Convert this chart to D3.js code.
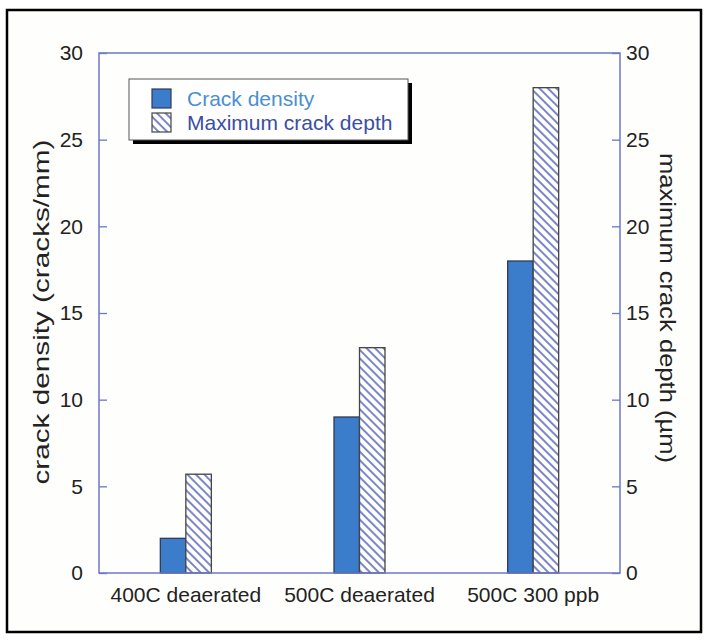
<!DOCTYPE html>
<html>
<head>
<meta charset="utf-8">
<script src="https://cdn.jsdelivr.net/npm/d3@7"></script>
<style>
  body { margin: 0; background: #fff; }
  text { font-family: "Liberation Sans", Arial, sans-serif; }
</style>
</head>
<body>
<svg width="704" height="640"></svg>
<script>
const categories = ["400C deaerated", "500C deaerated", "500C 300 ppb"];
const crackDensity = [2, 9, 18];
const maxCrackDepth = [5.7, 13, 28];
const yTicks = [0, 5, 10, 15, 20, 25, 30];

const svg = d3.select("svg");
const plotLeft = 99, plotRight = 620, plotTop = 53, plotBottom = 573;

// page frame
svg.append("rect")
  .attr("x", 7).attr("y", 10).attr("width", 694).attr("height", 622)
  .attr("fill", "#fefefc").attr("stroke", "#000").attr("stroke-width", 2.5);

const defs = svg.append("defs");
const hatch = defs.append("pattern")
  .attr("id", "hatch")
  .attr("patternUnits", "userSpaceOnUse")
  .attr("width", 6).attr("height", 6)
  .attr("patternTransform", "rotate(-45)");
hatch.append("rect").attr("width", 6).attr("height", 6).attr("fill", "#fff");
hatch.append("line")
  .attr("x1", 1).attr("y1", 0).attr("x2", 1).attr("y2", 6)
  .attr("stroke", "#5b68b6").attr("stroke-width", 1.6);

const x = d3.scaleBand().domain(categories).range([plotLeft, plotRight]);
const yL = d3.scaleLinear().domain([0, 30]).range([plotBottom, plotTop]);
const yR = d3.scaleLinear().domain([0, 30]).range([plotBottom, plotTop]);
const barW = 25.5;

// bars
svg.append("g").selectAll("rect")
  .data(categories)
  .join("rect")
  .attr("x", d => x(d) + x.bandwidth() / 2 - barW)
  .attr("y", (d, i) => yL(crackDensity[i]))
  .attr("width", barW)
  .attr("height", (d, i) => yL(0) - yL(crackDensity[i]))
  .attr("fill", "#3b7ccb")
  .attr("stroke", "#333a55").attr("stroke-width", 1.3);

svg.append("g").selectAll("rect")
  .data(categories)
  .join("rect")
  .attr("x", d => x(d) + x.bandwidth() / 2)
  .attr("y", (d, i) => yR(maxCrackDepth[i]))
  .attr("width", barW)
  .attr("height", (d, i) => yR(0) - yR(maxCrackDepth[i]))
  .attr("fill", "url(#hatch)")
  .attr("stroke", "#444").attr("stroke-width", 1.3);

// axes
const axisColor = "#6b78c6";
const gL = svg.append("g").attr("transform", `translate(${plotLeft},0)`)
  .call(d3.axisLeft(yL).tickValues(yTicks).tickSize(-8).tickPadding(16).tickFormat(d3.format("d")));
const gR = svg.append("g").attr("transform", `translate(${plotRight},0)`)
  .call(d3.axisRight(yR).tickValues(yTicks).tickSize(-8).tickPadding(6).tickFormat(d3.format("d")));
[gL, gR].forEach(g => {
  g.select(".domain").remove();
  g.selectAll("line").attr("stroke", axisColor).attr("stroke-width", 1.3);
  g.selectAll("text").attr("font-size", 21).attr("fill", "#222")
    .attr("font-family", "'Liberation Sans', Arial, sans-serif");
});

svg.append("rect")
  .attr("x", plotLeft).attr("y", plotTop)
  .attr("width", plotRight - plotLeft).attr("height", plotBottom - plotTop)
  .attr("fill", "none").attr("stroke", axisColor).attr("stroke-width", 1.5);

// category labels
svg.append("g").selectAll("text")
  .data(categories)
  .join("text")
  .attr("x", d => x(d) + x.bandwidth() / 2)
  .attr("y", 602)
  .attr("text-anchor", "middle")
  .attr("font-size", 21).attr("fill", "#222")
  .text(d => d);

// axis titles (stretched along their length as in the source figure)
svg.append("text")
  .attr("transform", `translate(49,312) rotate(-90)`)
  .attr("text-anchor", "middle")
  .attr("font-size", 22).attr("fill", "#222")
  .attr("textLength", 345).attr("lengthAdjust", "spacingAndGlyphs")
  .text("crack density (cracks/mm)");

svg.append("text")
  .attr("transform", `translate(660,308) rotate(90)`)
  .attr("text-anchor", "middle")
  .attr("font-size", 22).attr("fill", "#222")
  .attr("textLength", 310).attr("lengthAdjust", "spacingAndGlyphs")
  .text("maximum crack depth (µm)");

// legend
const lg = svg.append("g");
lg.append("rect").attr("x", 133).attr("y", 83).attr("width", 279).attr("height", 61).attr("fill", "#000");
lg.append("rect").attr("x", 129).attr("y", 79).attr("width", 279).attr("height", 61)
  .attr("fill", "#fff").attr("stroke", "#555").attr("stroke-width", 1);
lg.append("rect").attr("x", 152).attr("y", 89).attr("width", 19).attr("height", 19)
  .attr("fill", "#3b7ccb").attr("stroke", "#333a55").attr("stroke-width", 1.2);
lg.append("rect").attr("x", 152).attr("y", 113).attr("width", 19).attr("height", 19)
  .attr("fill", "url(#hatch)").attr("stroke", "#444").attr("stroke-width", 1.2);
lg.append("text").attr("x", 187).attr("y", 106).attr("font-size", 21)
  .attr("fill", "#4a8fd2").text("Crack density");
lg.append("text").attr("x", 187).attr("y", 130).attr("font-size", 21)
  .attr("fill", "#3a4ea6").text("Maximum crack depth");
</script>
</body>
</html>
